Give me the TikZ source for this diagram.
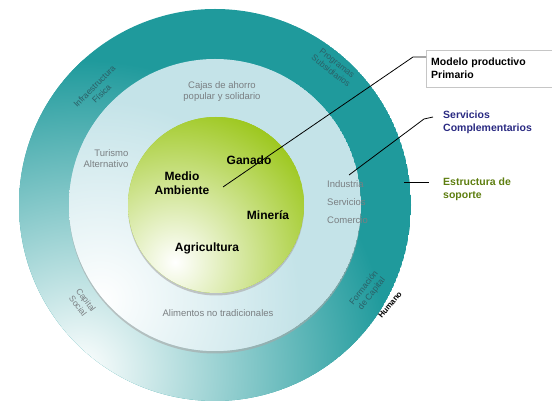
\documentclass[tikz,border=0pt]{standalone}
\usepackage{fontspec}
\setmainfont{Liberation Sans}
\usetikzlibrary{positioning}

\definecolor{tealanillo}{HTML}{1F9A9C}
\definecolor{celeste}{HTML}{C4E3E8}
\definecolor{verdecentro}{HTML}{9CC71C}
\definecolor{gristexto}{HTML}{7A7F82}
\definecolor{tealtexto}{HTML}{2B5F66}
\definecolor{azul}{HTML}{2A2A82}
\definecolor{oliva}{HTML}{5E7E10}

\begin{document}
\begin{tikzpicture}[x=1pt,y=-1pt,
  centro/.style={font=\bfseries\fontsize{12}{14}\selectfont,align=center,inner sep=1pt},
  anillo/.style={font=\fontsize{9.5}{11}\selectfont,align=center,text=gristexto,inner sep=1pt},
  exterior/.style={font=\fontsize{8.5}{10}\selectfont,align=center,text=tealtexto,inner sep=1pt},
  etiqueta/.style={font=\bfseries\fontsize{10.5}{13}\selectfont,align=left,inner sep=3pt},
  caja/.style={etiqueta,draw=gray!45,fill=white,inner sep=5pt,text width=130pt,minimum height=37pt},
  guia/.style={draw=black,line width=0.8pt}]
  \useasboundingbox (0,0) rectangle (552,403);

  \begin{scope}
    \clip (215,205) circle (196pt);
    \fill[tealanillo] (215,205) circle (196pt);
    \shade[inner color=white,outer color=tealanillo] (80,370) circle (310pt);
  \end{scope}
  \fill[black!35,opacity=.6] (215,207.5) circle (146pt);
  \begin{scope}
    \clip (215,205) circle (146pt);
    \fill[celeste] (215,205) circle (146pt);
    \shade[inner color=white,outer color=celeste] (100,300) circle (200pt);
  \end{scope}
  \fill[black!35,opacity=.6] (216,207.5) circle (88pt);
  \begin{scope}
    \clip (216,205) circle (88pt);
    \fill[verdecentro] (216,205) circle (88pt);
    \shade[inner color=white,outer color=verdecentro] (175,262) circle (160pt);
  \end{scope}

  \node[centro] (medio)   at (182,183) {Medio\\Ambiente};
  \node[centro] (ganado)  at (249,160) {Ganado};
  \node[centro] (mineria) at (268,215) {Minería};
  \node[centro] (agri)    at (207,248) {Agricultura};

  \node[anillo] (cajas)     at (222,92)  {Cajas de ahorro\\popular y solidario};
  \node[anillo,align=right] (turismo) at (106,159) {Turismo\\Alternativo};
  \node[anillo,align=left,anchor=west,font=\fontsize{9.5}{18}\selectfont] (industria) at (326,202) {Industria\\Servicios\\Comercio};
  \node[anillo] (alimentos) at (218,313) {Alimentos no tradicionales};

  \node[exterior,rotate=45]  (infra)     at (98,90)   {Infraestructura\\Física};
  \node[exterior,rotate=-38] (programas) at (334,67)  {Programas\\Subsidiarios};
  \node[anillo,font=\fontsize{8.5}{10}\selectfont,rotate=-53] (capital) at (82,303) {Capital\\Social};
  \node[exterior,rotate=52]  (formacion) at (368,291) {Formación\\de Capital};
  \node[font=\bfseries\fontsize{8}{9}\selectfont,rotate=50,inner sep=0pt] (humano) at (390,305) {Humano};

  \node[caja,anchor=north west] (modelo) at (426,50) {Modelo productivo\\Primario};
  \node[etiqueta,text=azul,anchor=north west]  (servicios) at (440,108) {Servicios\\Complementarios};
  \node[etiqueta,text=oliva,anchor=north west] (soporte)   at (440,175) {Estructura de\\soporte};

  \coordinate (pmodelo)  at (223,187);
  \coordinate (kmodelo)  at (413,57);
  \coordinate (pserv)    at (349,175);
  \coordinate (kserv)    at (424,119);
  \coordinate (fserv)    at (433,117);
  \coordinate (psoporte) at (404,182);
  \coordinate (fsoporte) at (429,182);

  \draw[guia] (pmodelo) -- (kmodelo) -- (modelo.west |- kmodelo);
  \draw[guia] (pserv) -- (kserv) -- (fserv);
  \draw[guia] (psoporte) -- (fsoporte);
\end{tikzpicture}
\end{document}
